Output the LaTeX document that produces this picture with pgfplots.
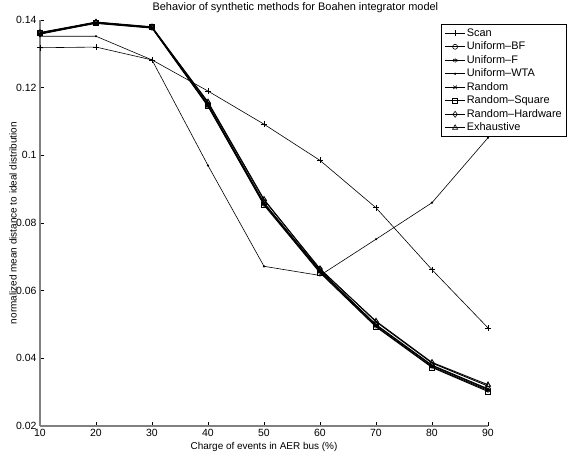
\documentclass[border=0pt]{standalone}
\usepackage{fontspec}
\setmainfont{Liberation Sans}
\usepackage{pgfplots}
\pgfplotsset{compat=1.18}
\begin{document}
\begin{tikzpicture}
\useasboundingbox (-40bp,-31bp) rectangle (534bp,426bp);
\begin{axis}[
  scale only axis, width=448bp, height=406bp,
  xmin=10, xmax=90, ymin=0.02, ymax=0.14,
  xtick={10,20,30,40,50,60,70,80,90},
  ytick={0.02,0.04,0.06,0.08,0.1,0.12,0.14},
  yticklabels={0.02,0.04,0.06,0.08,0.1,0.12,0.14},
  xticklabels={10,20,30,40,50,60,70,80,90},
  /pgf/number format/assume math mode=true,
  axis x line*=bottom, axis y line*=left,
  axis line style={black!50, line width=1.6bp},
  tick align=inside, major tick length=4bp,
  tick style={black, line width=0.6bp},
  ticklabel style={font=\fontsize{10.5}{12}\selectfont},
  xlabel={Charge of events in AER bus (\%)},
  ylabel={normalized mean distance to ideal distribution},
  label style={font=\fontsize{10}{12}\selectfont},
  xlabel style={at={(axis description cs:0.5,-0.052)}, anchor=center},
  ylabel style={at={(axis description cs:-0.06,0.5)}, anchor=center},
  title={Behavior of synthetic methods for Boahen integrator model},
  title style={at={(axis description cs:0.57,1.03)}, anchor=center, yshift=0pt, inner sep=0pt, font=\fontsize{11}{13}\selectfont},
  every axis title shift=0pt,
  legend style={at={(axis description cs:1.176,0.99)}, anchor=north east, draw=black, line width=1bp,
     font=\fontsize{11}{13}\selectfont, nodes={text height=8bp, text depth=2.5bp, inner sep=1.5bp}},
  legend cell align=left,
  legend image code/.code={\draw[mark repeat=2,mark phase=2,line width=0.6bp] plot coordinates {(0cm,0cm)(0.35cm,0cm)(0.7cm,0cm)};},
  every axis plot/.append style={black, mark options={solid, line width=0.6bp}},
]
% Scan
\addplot[line width=0.6bp, mark=+, mark size=3bp] coordinates {
(10,0.1318)(20,0.1320)(30,0.1282)(40,0.1190)(50,0.1092)(60,0.0985)(70,0.0845)(80,0.0662)(90,0.0490)};
\addlegendentry{Scan}
% Uniform-BF
\addplot[line width=0.9bp, mark=o, mark size=2.5bp] coordinates {
(10,0.1362)(20,0.1392)(30,0.1378)(40,0.1150)(50,0.0860)(60,0.0660)(70,0.0500)(80,0.0380)(90,0.0310)};
\addlegendentry{Uniform--BF}
% Uniform-F
\addplot[line width=0.9bp, mark=asterisk, mark size=2.5bp] coordinates {
(10,0.1360)(20,0.1390)(30,0.1376)(40,0.1145)(50,0.0855)(60,0.0655)(70,0.0495)(80,0.0375)(90,0.0305)};
\addlegendentry{Uniform--F}
% Uniform-WTA
\addplot[line width=0.6bp, mark=*, mark size=0.8bp] coordinates {
(10,0.1352)(20,0.1352)(30,0.1282)(40,0.0970)(50,0.0672)(60,0.0645)(70,0.0752)(80,0.0860)(90,0.1052)};
\addlegendentry{Uniform--WTA}
% Random
\addplot[line width=0.9bp, mark=x, mark size=2.5bp] coordinates {
(10,0.1358)(20,0.1391)(30,0.1377)(40,0.1148)(50,0.0858)(60,0.0658)(70,0.0498)(80,0.0378)(90,0.0308)};
\addlegendentry{Random}
% Random-Square
\addplot[line width=0.9bp, mark=square, mark size=2.5bp] coordinates {
(10,0.1361)(20,0.1393)(30,0.1379)(40,0.1146)(50,0.0853)(60,0.0653)(70,0.0493)(80,0.0373)(90,0.0302)};
\addlegendentry{Random--Square}
% Random-Hardware
\addplot[line width=0.9bp, mark=diamond, mark size=3bp] coordinates {
(10,0.1363)(20,0.1394)(30,0.1380)(40,0.1155)(50,0.0868)(60,0.0665)(70,0.0508)(80,0.0386)(90,0.0318)};
\addlegendentry{Random--Hardware}
% Exhaustive
\addplot[line width=0.9bp, mark=triangle, mark size=3bp] coordinates {
(10,0.1361)(20,0.1393)(30,0.1378)(40,0.1158)(50,0.0870)(60,0.0663)(70,0.0510)(80,0.0388)(90,0.0322)};
\addlegendentry{Exhaustive}
\end{axis}
\end{tikzpicture}
\end{document}
